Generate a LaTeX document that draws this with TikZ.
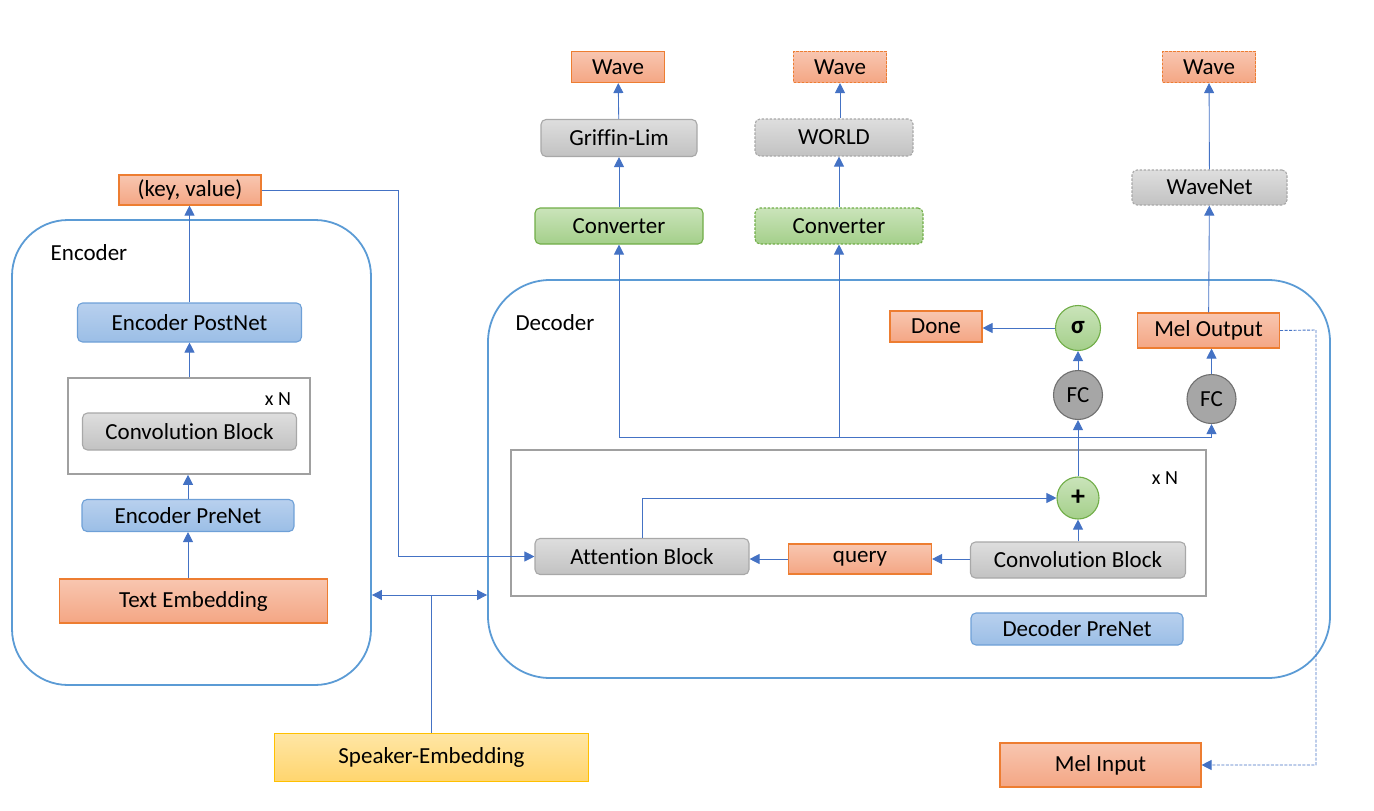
\documentclass[tikz,border=0pt]{standalone}
\usepackage{fontspec}
\setmainfont{Carlito}[Ligatures=NoCommon]
\usepackage{xcolor}
\usetikzlibrary{arrows.meta}

\definecolor{otop}{RGB}{248,198,176}
\definecolor{obot}{RGB}{244,166,132}
\definecolor{oline}{RGB}{237,125,49}
\definecolor{btop}{RGB}{184,208,238}
\definecolor{bbot}{RGB}{155,190,230}
\definecolor{bline}{RGB}{110,160,215}
\definecolor{gtop}{RGB}{222,222,222}
\definecolor{gbot}{RGB}{194,194,194}
\definecolor{gline}{RGB}{168,168,168}
\definecolor{ntop}{RGB}{202,228,186}
\definecolor{nbot}{RGB}{164,207,138}
\definecolor{nline}{RGB}{112,173,71}
\definecolor{ytop}{RGB}{255,230,165}
\definecolor{ybot}{RGB}{255,213,110}
\definecolor{yline}{RGB}{255,192,0}
\definecolor{fcfill}{RGB}{166,166,166}
\definecolor{fcline}{RGB}{112,112,112}
\definecolor{wireblue}{RGB}{68,114,196}
\definecolor{contblue}{RGB}{91,155,213}
\definecolor{framegray}{RGB}{160,160,160}

\begin{document}
\begin{tikzpicture}[x=1pt,y=-1pt,font=\fontsize{23}{27}\selectfont,
  sz/.style 2 args={minimum width=#1pt,minimum height=#2pt,inner sep=0pt},
  orng/.style={draw=oline,line width=1.1pt,top color=otop,bottom color=obot},
  blu/.style={draw=bline,line width=1.1pt,rounded corners=5pt,top color=btop,bottom color=bbot},
  gry/.style={draw=gline,line width=1.1pt,rounded corners=5pt,top color=gtop,bottom color=gbot},
  grn/.style={draw=nline,line width=1.1pt,rounded corners=5pt,top color=ntop,bottom color=nbot},
  ylw/.style={draw=yline,line width=1.1pt,top color=ytop,bottom color=ybot},
  dsh/.style={dash pattern=on 2.5pt off 1.5pt},
  cont/.style={draw=contblue,line width=1.8pt,rounded corners=56pt},
  frame/.style={draw=framegray,line width=1.6pt},
  fc/.style={circle,draw=fcline,line width=1.1pt,fill=fcfill,minimum size=49pt,inner sep=0pt},
  wire/.style={draw=wireblue,line width=0.85pt},
  arr/.style={wire,-{Triangle[width=10pt,length=10pt]}},
  arrb/.style={wire,{Triangle[width=10pt,length=10pt]}-{Triangle[width=10pt,length=10pt]}},
  small/.style={font=\fontsize{20}{23}\selectfont}]
  \useasboundingbox (0,0) rectangle (1374,811);
  % containers
  \node[cont,sz={359}{465}] (enc) at (191.5,452.5) {};
  \node[cont,sz={842}{398},rounded corners=62pt] (dec) at (909,479) {};
  \node at (89,253) {Encoder};
  \node at (555,323) {Decoder};
  \node[frame,sz={242}{96}] (encN) at (189,426) {};
  \node[small] at (278,399) {x N};
  \node[frame,sz={695}{146}] (decN) at (858.5,523) {};
  \node[small] at (1165,478) {x N};
  % encoder side
  \node[orng,sz={142}{30}] (keyval) at (190,190) {(key, value)};
  \node[blu,sz={224}{39}] (encpost) at (189.5,322.5) {Encoder PostNet};
  \node[gry,sz={214}{37}] (encconv) at (189.5,431.5) {Convolution Block};
  \node[blu,sz={212}{32}] (encpre) at (188,515.5) {Encoder PreNet};
  \node[orng,sz={268}{44}] (textemb) at (193.5,601) {Text Embedding};
  \node[ylw,sz={314}{48}] (speaker) at (431.5,757.5) {Speaker-Embedding};
  % outputs
  \node[orng,sz={93}{31}] (wave1) at (618,67) {Wave};
  \node[orng,dsh,sz={93}{31}] (wave2) at (840,67) {Wave};
  \node[orng,dsh,sz={93}{31}] (wave3) at (1209,67) {Wave};
  \node[gry,sz={156}{37}] (griffin) at (619,138) {Griffin-Lim};
  \node[gry,dsh,sz={158}{37}] (world) at (834,137.5) {WORLD};
  \node[gry,dsh,sz={155}{35}] (wavenet) at (1209.5,187.5) {WaveNet};
  \node[grn,sz={168}{36}] (conv1) at (619,226) {Converter};
  \node[grn,dsh,sz={168}{36}] (conv2) at (839,226) {Converter};
  % decoder side
  \node[orng,sz={92}{31}] (done) at (936,326.5) {Done};
  \node[circle,draw=nline,line width=1.1pt,top color=ntop,bottom color=nbot,minimum size=45pt,inner sep=0pt,font=\fontsize{25}{28}\selectfont\bfseries] (sig) at (1078,328) {σ};
  \node[orng,sz={142}{35}] (melout) at (1208.5,330.5) {Mel Output};
  \node[fc] (fcdone) at (1078,395) {FC};
  \node[fc] (fcmel) at (1211.5,399) {FC};
  \node[circle,draw=nline,line width=1.1pt,top color=ntop,bottom color=nbot,minimum size=42pt,inner sep=0pt,font=\fontsize{28}{30}\selectfont\bfseries] (plus) at (1078,498) {+};
  \node[gry,sz={214}{36}] (attn) at (642,556.5) {Attention Block};
  \node[orng,sz={143}{30}] (query) at (860,559) {query};
  \node[gry,sz={215}{36}] (decconv) at (1078,560) {Convolution Block};
  \node[blu,sz={212}{32}] (decpre) at (1077,629) {Decoder PreNet};
  \node[orng,sz={201}{44}] (melin) at (1100.5,765) {Mel Input};
  % helper points
  \coordinate (hub) at (619,437);
  \coordinate (kv) at (398,190);
  \coordinate (spk) at (431.5,595);
  \coordinate (mr) at (1316,330);
  % encoder wires
  \draw[arr] (textemb.north -| encpre) -- (encpre);
  \draw[arr] (encpre.north) -- (encpre.north |- encN.south);
  \draw[arr] (encN.north -| encpost) -- (encpost);
  \draw[arr] (encpost) -- (encpost |- keyval.south);
  \draw[arr] (keyval.east) -- (kv) -- (kv |- attn) -- (attn.west);
  \draw[wire] (speaker.north) -- (spk);
  \draw[arrb] (enc.east |- spk) -- (dec.west |- spk);
  % decoder wires
  \draw[arr] (decconv) -- (plus);
  \draw[arr] (decconv.west |- query) -- (query.east);
  \draw[arr] (query.west) -- (attn.east |- query);
  \draw[arr] (attn.north) |- (plus);
  \draw[arr] (plus) -- (fcdone);
  \draw[arr] (fcdone) -- (sig);
  \draw[arr] (sig.west) -- (done.east |- sig);
  \draw[arr] (hub) -| (fcmel);
  \draw[arr] (fcmel) -- (fcmel |- melout.south);
  \draw[arr] (melout) -- (wavenet);
  \draw[arr] (wavenet) -- (wave3);
  \draw[wire,line width=0.9pt,dash pattern=on 3pt off 1.5pt,-{Triangle[width=10pt,length=10pt]}] (melout.east) -- (mr) -- (mr |- melin) -- (melin.east);
  % converters and vocoders
  \draw[arr] (hub) -- (conv1);
  \draw[arr] (conv2 |- hub) -- (conv2);
  \draw[arr] (conv1) -- (griffin);
  \draw[arr] (griffin) -- (wave1);
  \draw[arr] (conv2) -- (conv2 |- world.south);
  \draw[arr] (world.north -| wave2) -- (wave2);
\end{tikzpicture}
\end{document}
